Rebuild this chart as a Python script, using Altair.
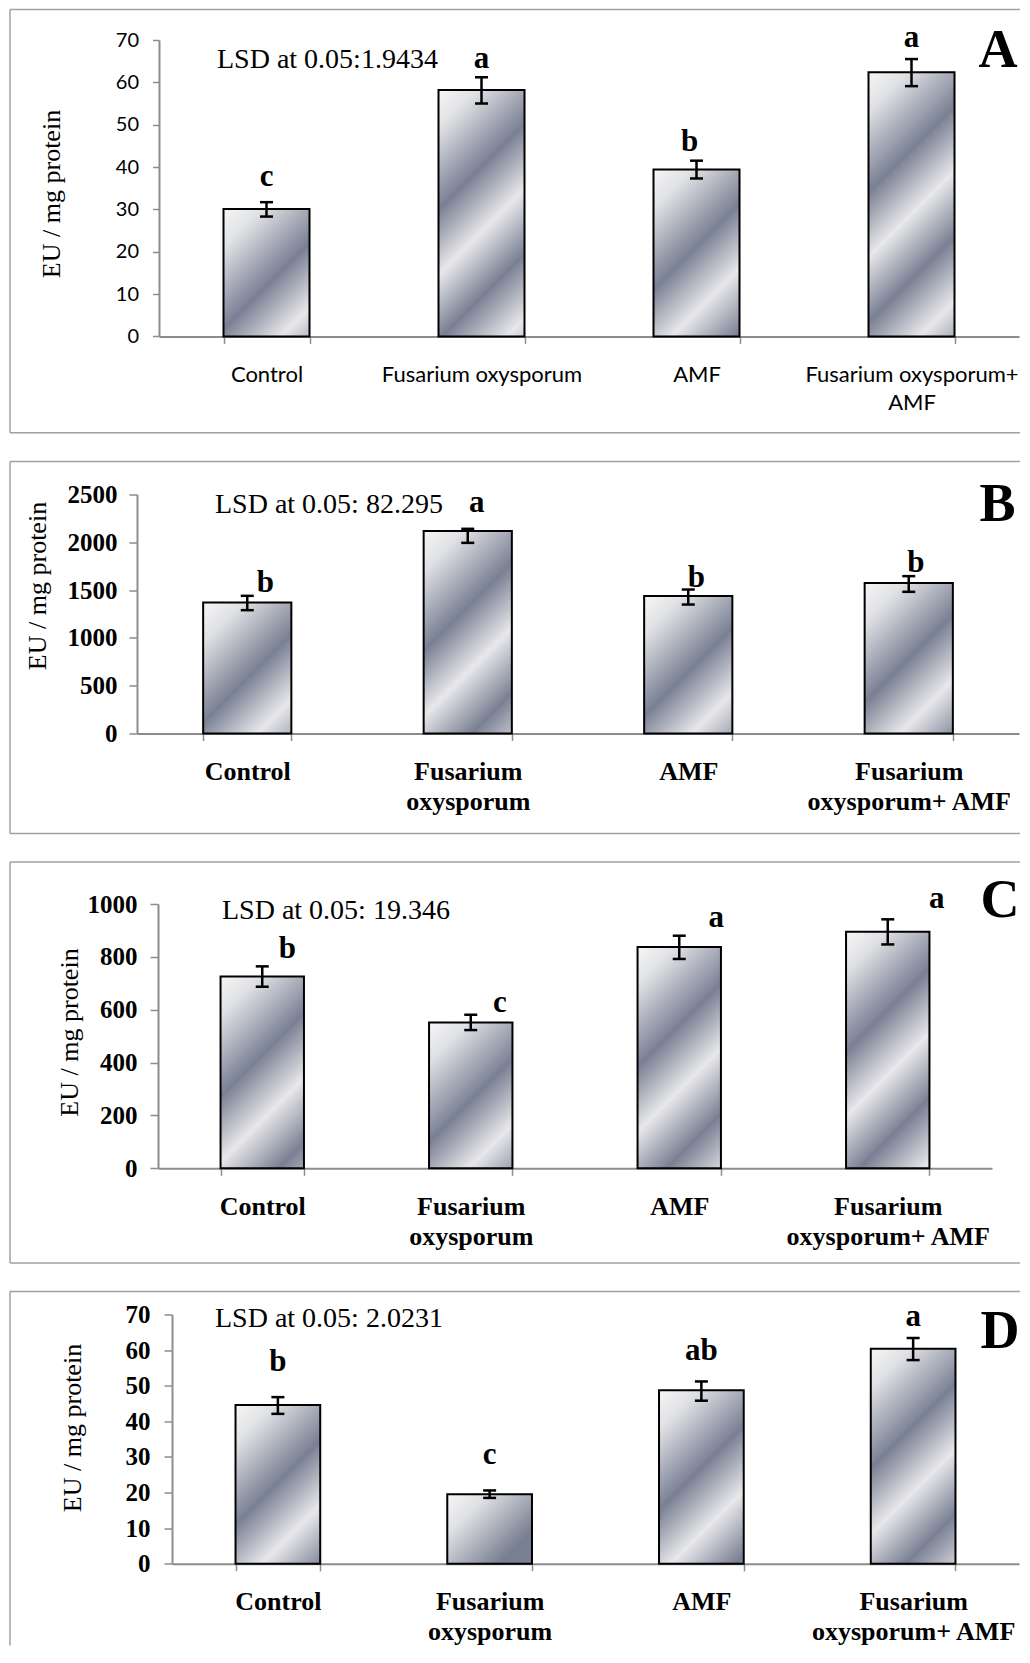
import altair as alt
import pandas as pd

# ---------------- data ----------------
categories = ["Control", "Fusarium oxysporum", "AMF", "Fusarium oxysporum+ AMF"]
y_title = "EU / mg protein"

a_values = [30.1, 58.2, 39.4, 62.4]
a_low = [28.3, 55.0, 37.3, 59.1]
a_high = [31.7, 61.2, 41.5, 65.5]
a_letters = ["c", "a", "b", "a"]
a_letter_y = [35.6, 63.5, 43.9, 68.3]
a_ymax, a_ystep = 70, 10
a_lsd = "LSD at 0.05:1.9434"

b_values = [1370, 2117, 1437, 1573]
b_low = [1290, 1994, 1349, 1482]
b_high = [1440, 2141, 1506, 1646]
b_letters = ["b", "a", "b", "b"]
b_letter_y = [1478, 2315, 1530, 1687]
b_ymax, b_ystep = 2500, 500
b_lsd = "LSD at 0.05: 82.295"

c_values = [726, 552, 837, 895]
c_low = [687, 523, 792, 847]
c_high = [764, 581, 880, 942]
c_letters = ["b", "c", "a", "a"]
c_letter_y = [795, 593, 914, 986]
c_ymax, c_ystep = 1000, 200
c_lsd = "LSD at 0.05: 19.346"

d_values = [44.6, 19.5, 48.7, 60.4]
d_low = [42.1, 18.5, 45.8, 57.2]
d_high = [46.8, 20.6, 51.2, 63.4]
d_letters = ["b", "c", "ab", "a"]
d_letter_y = [54.1, 27.9, 57.1, 66.9]
d_ymax, d_ystep = 70, 10
d_lsd = "LSD at 0.05: 2.0231"

# ---------------- style / layout ----------------
SERIF = "Liberation Serif"
SANS = "Lato"
GRAY = "#8c8c8c"
FRAME = "#a0a0a0"
DARK = "#7a8094"
LIGHT = "#e8e8ea"
PATTERN = [(0, "#f6f6f6"), (40, "#e0e1e4"), (120, DARK), (185, LIGHT),
           (250, DARK), (315, LIGHT), (380, DARK), (445, LIGHT)]

X0 = 137          # common page x of every panel's view origin
FRAME_LEFT = 10   # page x of the panel frames
FRAME_RIGHT = 1020

ONE_LINE_LAST = "datum.label == 'Fusarium oxysporum+ AMF' ? ['Fusarium oxysporum+', 'AMF'] : datum.label"
SPLIT_FIRST = ("indexof(datum.label, ' ') > 0 ? [slice(datum.label, 0, indexof(datum.label, ' ')), "
               "slice(datum.label, indexof(datum.label, ' ') + 1)] : datum.label")

# page coordinates of the plot area, frame and annotations
STYLE = {
    "A": dict(left=159, top=39.3, width=860, height=296.4, frame_top=8.75, frame_bottom=432, closed=True,
              tfont=SANS, tsize=20, tweight="normal", xfont=SANS, xsize=22, xweight="normal",
              xpad=21, xlh=28, ypad=14, ytick=6.5, expr=ONE_LINE_LAST,
              title_x=-108, title_y=153.5, lsd=(217, 58.8), tag="A", tag_pos=(998, 50),
              letter_dx=[0, 0, -7, 0]),
    "B": dict(left=137, top=494, width=882, height=239, frame_top=461, frame_bottom=833, closed=True,
              tfont=SERIF, tsize=25, tweight="bold", xfont=SERIF, xsize=26, xweight="bold",
              xpad=18, xlh=30, ypad=12, ytick=8, expr=SPLIT_FIRST,
              title_x=-100, title_y=91, lsd=(215, 504), tag="B", tag_pos=(997.5, 504.7),
              letter_dx=[18, 9, 8, 7]),
    "C": dict(left=158, top=904, width=834, height=264.3, frame_top=862, frame_bottom=1263, closed=True,
              tfont=SERIF, tsize=25, tweight="bold", xfont=SERIF, xsize=26, xweight="bold",
              xpad=18, xlh=30, ypad=13, ytick=8, expr=SPLIT_FIRST,
              title_x=-89, title_y=128, lsd=(222, 910.5), tag="C", tag_pos=(1000, 901),
              letter_dx=[25, 29, 37, 49]),
    "D": dict(left=172, top=1314, width=847, height=249.3, frame_top=1291, frame_bottom=1645, closed=False,
              tfont=SERIF, tsize=25, tweight="bold", xfont=SERIF, xsize=26, xweight="bold",
              xpad=18, xlh=30, ypad=14, ytick=8, expr=SPLIT_FIRST,
              title_x=-100, title_y=113, lsd=(215, 1318.5), tag="D", tag_pos=(1000, 1331.5),
              letter_dx=[0, 0, 0, 0]),
}


def stripes(w, h):
    """Diagonal light/dark stripes at roughly 45 degrees inside a w x h bar."""
    s = (w * w + h * h) / w
    stops = []
    for dist, col in PATTERN:
        off = dist / s
        if off > 1:
            break
        stops.append(alt.GradientStop(color=col, offset=off))
    return alt.LinearGradient(gradient="linear", stops=stops, x1=0, y1=0, x2=1, y2=h / w)


def panel(key, values, low, high, letters, letter_y, ymax, ystep, lsd):
    s = STYLE[key]
    W, H, T = s["width"], s["height"], s["top"]
    dx = s["left"] - X0
    df = pd.DataFrame({"category": categories, "value": values, "low": low, "high": high})

    xs = alt.Scale(domain=categories, range=[dx, dx + W], paddingInner=0.6, paddingOuter=0.3)
    ys = alt.Scale(domain=[0, ymax], nice=False, zero=True)
    xa = alt.Axis(title=None, labelAngle=0, tickBand="extent", labelExpr=s["expr"],
                  labelFont=s["xfont"], labelFontSize=s["xsize"], labelFontWeight=s["xweight"],
                  labelColor="black", labelPadding=s["xpad"], labelLineHeight=s["xlh"],
                  labelBaseline="top", labelLimit=500, tickSize=7, tickColor=GRAY, tickWidth=1.5,
                  domainColor=GRAY, domainWidth=2, grid=False)
    ya = alt.Axis(title=y_title, titleFont=SERIF, titleFontWeight="normal", titleFontSize=26,
                  titleColor="black", titleAngle=270, titleX=s["title_x"], titleY=s["title_y"],
                  titleAlign="center", titleBaseline="middle", offset=-dx, format="d",
                  values=list(range(0, ymax + 1, ystep)), labelFont=s["tfont"],
                  labelFontSize=s["tsize"], labelFontWeight=s["tweight"], labelColor="black",
                  labelPadding=s["ypad"], tickSize=s["ytick"], tickColor=GRAY, tickWidth=1.5,
                  domainColor=GRAY, domainWidth=2, grid=False, labelFlush=False)
    X = alt.X("category:N", scale=xs, axis=xa, sort=categories)

    layers = []
    bw = W / 4 * 0.4
    for i in range(len(categories)):
        h = values[i] / ymax * H
        layers.append(
            alt.Chart(df.iloc[[i]]).mark_bar(fill=stripes(bw, h), stroke="black", strokeWidth=2)
            .encode(x=X, y=alt.Y("value:Q", scale=ys, axis=ya))
        )
    layers.append(
        alt.Chart(df).mark_rule(color="black", strokeWidth=2.5)
        .encode(x=X, y=alt.Y("low:Q", scale=ys, axis=ya), y2="high:Q")
    )
    for fld in ["low", "high"]:
        layers.append(
            alt.Chart(df).mark_tick(color="black", thickness=2.5, size=13, opacity=1)
            .encode(x=X, y=alt.Y(f"{fld}:Q", scale=ys, axis=ya))
        )
    for i in range(len(categories)):
        ldf = pd.DataFrame({"category": [categories[i]], "pos": [letter_y[i]], "letter": [letters[i]]})
        layers.append(
            alt.Chart(ldf).mark_text(font=SERIF, fontWeight="bold", fontSize=31, baseline="alphabetic",
                                     align="center", dx=s["letter_dx"][i], color="black")
            .encode(x=X, y=alt.Y("pos:Q", scale=ys, axis=ya), text="letter:N")
        )
    one = pd.DataFrame({"k": [0]})
    layers.append(
        alt.Chart(one).mark_text(text=lsd, font=SERIF, fontSize=28, align="left",
                                 baseline="middle", color="black")
        .encode(x=alt.value(s["lsd"][0] - X0), y=alt.value(s["lsd"][1] - T))
    )
    layers.append(
        alt.Chart(one).mark_text(text=s["tag"], font=SERIF, fontWeight="bold", fontSize=54,
                                 align="center", baseline="middle", color="black")
        .encode(x=alt.value(s["tag_pos"][0] - X0), y=alt.value(s["tag_pos"][1] - T))
    )
    fl, fr = FRAME_LEFT - X0, FRAME_RIGHT - X0
    ft, fb = s["frame_top"] - T, s["frame_bottom"] - T
    frame = alt.Chart(one).mark_rule(color=FRAME, strokeWidth=1.5)
    layers.append(frame.encode(x=alt.value(fl), x2=alt.value(fr), y=alt.value(ft)))
    layers.append(frame.encode(x=alt.value(fl), y=alt.value(ft), y2=alt.value(fb)))
    if s["closed"]:
        layers.append(frame.encode(x=alt.value(fl), x2=alt.value(fr), y=alt.value(fb)))
    return alt.layer(*layers).properties(width=dx + W, height=H)


panels = [
    panel("A", a_values, a_low, a_high, a_letters, a_letter_y, a_ymax, a_ystep, a_lsd),
    panel("B", b_values, b_low, b_high, b_letters, b_letter_y, b_ymax, b_ystep, b_lsd),
    panel("C", c_values, c_low, c_high, c_letters, c_letter_y, c_ymax, c_ystep, c_lsd),
    panel("D", d_values, d_low, d_high, d_letters, d_letter_y, d_ymax, d_ystep, d_lsd),
]

chart = (
    alt.concat(*panels, columns=1, spacing=26.5)
    .properties(padding={"left": 1, "top": 0, "right": 0, "bottom": 0}, background="white")
    .configure_view(stroke=None)
)

chart.save("out.html", embed_options={"renderer": "svg", "actions": False})
